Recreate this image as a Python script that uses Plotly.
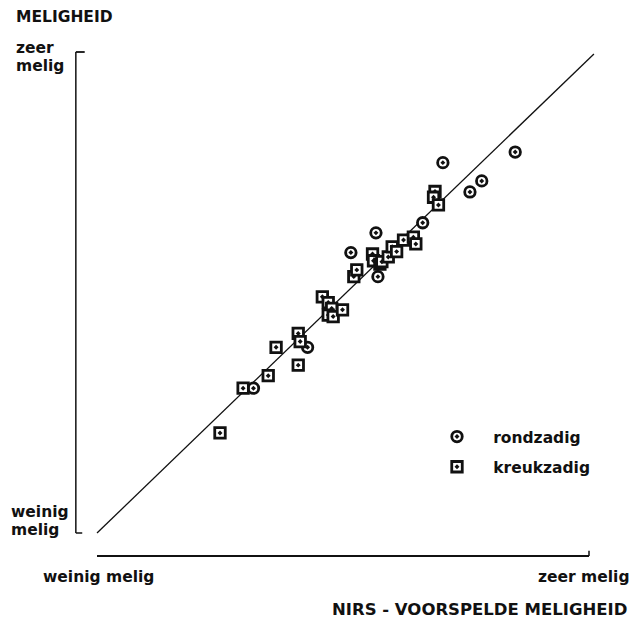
import plotly.graph_objects as go

# Meligheid: gemeten (verticaal) tegen NIRS-voorspeld (horizontaal), schaal 0-100
rond_nirs = [85.0, 70.3, 78.2, 75.8, 66.2, 56.7, 51.6, 57.1, 42.8, 31.8]
rond_melig = [79.2, 77.0, 73.2, 70.9, 64.5, 62.4, 58.3, 53.3, 38.6, 30.1]

kreuk_nirs = [25.0, 29.7, 34.8, 36.4, 40.9, 40.9, 41.3, 45.8, 47.0, 47.7,
              47.0, 48.0, 49.9, 52.2, 52.8, 56.0, 56.2, 57.5, 57.9, 59.2,
              60.0, 60.9, 62.3, 64.3, 64.8, 68.7, 68.4, 69.4]
kreuk_melig = [20.8, 30.1, 32.7, 38.6, 34.9, 41.5, 39.8, 49.1, 47.9, 46.7,
               45.3, 45.0, 46.4, 53.3, 54.7, 58.0, 56.6, 55.9, 56.4, 57.4,
               59.5, 58.5, 60.9, 61.5, 60.1, 71.0, 69.8, 68.2]

legend_labels = ["rondzadig", "kreukzadig"]
y_title = "MELIGHEID"
x_title = "NIRS - VOORSPELDE MELIGHEID"
y_low, y_high = ["weinig", "melig"], ["zeer", "melig"]
x_low, x_high = "weinig melig", "zeer melig"

W, H = 631, 619
FONT = "DejaVu Sans"
INK = "#111111"
PAD = "\u00a0\u00a0\u00a0"  # extra room between legend symbol and label

# pixel placement of the 0..100 scale
X0, XS = 97, 4.92
Y0, YS = 533, 4.81
x_range = [(0 - X0) / XS, (W - X0) / XS]
y_range = [(Y0 - H) / YS, Y0 / YS]


def px(x):
    return x / W


def py(y):
    return 1 - y / H


fig = go.Figure()

fig.add_trace(go.Scatter(
    x=rond_nirs, y=rond_melig, mode="markers", name=PAD + legend_labels[0],
    legendgroup="a",
    marker=dict(symbol="circle-dot", size=10.5, color="white",
                line=dict(color=INK, width=2.8)),
))
fig.add_trace(go.Scatter(
    x=kreuk_nirs, y=kreuk_melig, mode="markers", name=PAD + legend_labels[1],
    legendgroup="b",
    marker=dict(symbol="square-dot", size=10.5, color="white",
                line=dict(color=INK, width=2.8)),
))

shapes = [
    # diagonal y = x
    dict(type="line", x0=0, y0=0, x1=101, y1=99.6,
         line=dict(color=INK, width=1.3), layer="below"),
    # vertical axis bracket
    dict(type="line", x0=-4.3, y0=0, x1=-4.3, y1=100,
         line=dict(color=INK, width=1.5)),
    dict(type="line", x0=-4.3, y0=100, x1=-2.5, y1=100,
         line=dict(color=INK, width=1.8)),
    dict(type="line", x0=-4.3, y0=0, x1=-3.0, y1=0,
         line=dict(color=INK, width=1.5)),
    # horizontal axis bracket
    dict(type="line", x0=0, y0=-4.8, x1=100, y1=-4.8,
         line=dict(color=INK, width=2)),
    dict(type="line", x0=100, y0=-4.8, x1=100, y1=-3.7,
         line=dict(color=INK, width=1.5)),
]

ann = []


def text(t, x, y, anchor="left", size=15.5):
    ann.append(dict(text=t, x=px(x), y=py(y), xref="paper", yref="paper",
                    xanchor=anchor, yanchor="middle", showarrow=False,
                    font=dict(family=FONT, size=size, color=INK,
                              weight="bold")))


text(y_title, 14, 17)
text(y_high[0], 14, 48)
text(y_high[1], 14, 66)
text(y_low[0], 9, 512)
text(y_low[1], 9, 530)
text(x_low, 41, 577)
text(x_high, 631, 577, anchor="right")
text(x_title, 629, 609, anchor="right", size=16.5)

fig.update_layout(
    width=W, height=H,
    margin=dict(l=0, r=0, t=0, b=0),
    paper_bgcolor="white", plot_bgcolor="white",
    xaxis=dict(range=x_range, visible=False, fixedrange=True),
    yaxis=dict(range=y_range, visible=False, fixedrange=True),
    shapes=shapes, annotations=ann,
    showlegend=True,
    legend=dict(x=px(437), y=py(420), xanchor="left", yanchor="top",
                bgcolor="rgba(0,0,0,0)", tracegroupgap=7, itemwidth=30,
                font=dict(family=FONT, size=15.5, color=INK, weight="bold")),
)

fig.write_html("out.html")
